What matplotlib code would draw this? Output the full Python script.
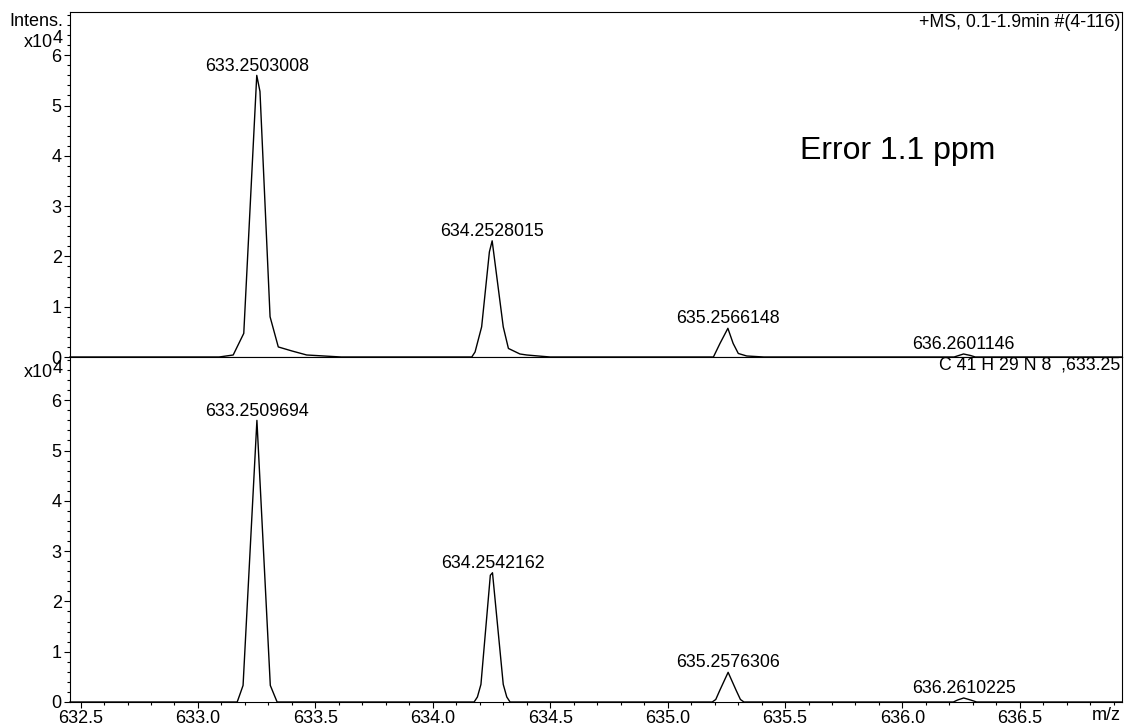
import matplotlib
matplotlib.use("Agg")
import matplotlib.pyplot as plt
from matplotlib.ticker import MultipleLocator, FormatStrFormatter

plt.rcParams['font.family'] = ['Liberation Sans', 'DejaVu Sans']

# Measured profile spectrum (m/z, intensity in units of 1e4)
measured_mz = [632.455, 632.53, 633.09, 633.15, 633.195, 633.2503008, 633.264, 633.307,
               633.342, 633.40, 633.463, 633.50, 633.61,
               634.166, 634.180, 634.208, 634.241, 634.2528015, 634.300, 634.322,
               634.371, 634.40, 634.449, 634.50,
               635.195, 635.223, 635.2566148, 635.279, 635.301, 635.337, 635.41,
               636.22, 636.24, 636.2601146, 636.29, 636.31, 636.935]
measured_int = [0.0, 0.0, 0.0, 0.04, 0.47, 5.60, 5.28, 0.80,
                0.20, 0.12, 0.04, 0.03, 0.0,
                0.0, 0.10, 0.60, 2.09, 2.31, 0.60, 0.17,
                0.06, 0.04, 0.02, 0.0,
                0.0, 0.27, 0.57, 0.27, 0.07, 0.02, 0.0,
                0.0, 0.03, 0.06, 0.03, 0.0, 0.0]

# Simulated isotope pattern for C41H29N8
simulated_mz = [632.455, 633.167, 633.180, 633.192, 633.2509694, 633.308, 633.322, 633.337,
                634.176, 634.190, 634.205, 634.245, 634.2542162, 634.300, 634.315, 634.329,
                635.190, 635.205, 635.222, 635.2576306, 635.292, 635.310, 635.325,
                636.217, 636.235, 636.2610225, 636.290, 636.316, 636.935]
simulated_int = [0.0, 0.0, 0.17, 0.33, 5.60, 0.33, 0.17, 0.0,
                 0.0, 0.10, 0.35, 2.52, 2.57, 0.35, 0.10, 0.0,
                 0.0, 0.05, 0.23, 0.59, 0.23, 0.05, 0.0,
                 0.0, 0.04, 0.08, 0.04, 0.0, 0.0]

# Labelled peaks
measured_peak_mz = [633.2503008, 634.2528015, 635.2566148, 636.2601146]
measured_peak_int = [5.60, 2.31, 0.57, 0.06]
measured_peak_labels = ["633.2503008", "634.2528015", "635.2566148", "636.2601146"]

simulated_peak_mz = [633.2509694, 634.2542162, 635.2576306, 636.2610225]
simulated_peak_int = [5.60, 2.57, 0.59, 0.08]
simulated_peak_labels = ["633.2509694", "634.2542162", "635.2576306", "636.2610225"]

x_ticks = [632.5, 633.0, 633.5, 634.0, 634.5, 635.0, 635.5, 636.0, 636.5]
y_ticks = [0, 1, 2, 3, 4, 5, 6]

FS = 12.8
TICK_FS = 13
W, H = 1128, 728
fig = plt.figure(figsize=(W / 100, H / 100), dpi=100)

left = 70 / W
width = 1052 / W
ph = 345 / H
ax_top = fig.add_axes([left, 1 - 357 / H, width, ph])
ax_bot = fig.add_axes([left, 1 - 702 / H, width, ph])

xlim = (632.455, 636.935)
ylim = (0, 6.86)

for ax, mz, inten, pmz, pint, plabels in [
        (ax_top, measured_mz, measured_int, measured_peak_mz, measured_peak_int, measured_peak_labels),
        (ax_bot, simulated_mz, simulated_int, simulated_peak_mz, simulated_peak_int, simulated_peak_labels)]:
    ax.plot(mz, inten, color='black', lw=1.0, clip_on=False, zorder=3)
    for x, y, lab in zip(pmz, pint, plabels):
        ax.annotate(lab, xy=(x, y), xytext=(0, 3.5), textcoords='offset points',
                    ha='center', va='baseline', fontsize=FS)
    ax.set_xlim(*xlim)
    ax.set_ylim(*ylim)
    ax.set_yticks(y_ticks)
    ax.yaxis.set_minor_locator(MultipleLocator(0.2))
    ax.yaxis.set_major_formatter(FormatStrFormatter('%d'))
    ax.tick_params(axis='y', which='major', direction='out', length=4, width=0.8,
                   labelsize=TICK_FS, pad=2)
    ax.tick_params(axis='y', which='minor', direction='out', length=2.5, width=0.8)
    for s in ax.spines.values():
        s.set_linewidth(0.8)

ax_top.tick_params(axis='x', which='both', bottom=False, labelbottom=False)

ax_bot.set_xticks(x_ticks)
ax_bot.xaxis.set_minor_locator(MultipleLocator(0.1))
ax_bot.xaxis.set_major_formatter(FormatStrFormatter('%.1f'))
ax_bot.tick_params(axis='x', which='major', direction='out', length=4, width=0.8,
                   labelsize=TICK_FS, pad=2)
ax_bot.tick_params(axis='x', which='minor', direction='out', length=2.5, width=0.8)

# Panel annotations
ax_top.text(0.9986, 0.971, "+MS, 0.1-1.9min #(4-116)", transform=ax_top.transAxes,
            ha='right', va='center', fontsize=FS)
ax_top.text(0.694, 0.597, "Error 1.1 ppm", transform=ax_top.transAxes,
            ha='left', va='center', fontsize=23)
ax_bot.text(0.9986, 0.977, "C 41 H 29 N 8  ,633.25", transform=ax_bot.transAxes,
            ha='right', va='center', fontsize=FS)

# Axis captions in figure pixel coordinates
def fig_text(px, py, s, **kw):
    fig.text(px / W, 1 - py / H, s, fontsize=TICK_FS, **kw)

fig_text(63, 21, "Intens.", ha='right', va='center')
fig_text(53, 47, "x10", ha='right', va='baseline')
fig_text(53, 43, "4", ha='left', va='baseline')
fig_text(53, 377, "x10", ha='right', va='baseline')
fig_text(53, 373, "4", ha='left', va='baseline')
fig_text(1121, 716, "m/z", ha='right', va='center')

fig.savefig("out.png", dpi=100)
